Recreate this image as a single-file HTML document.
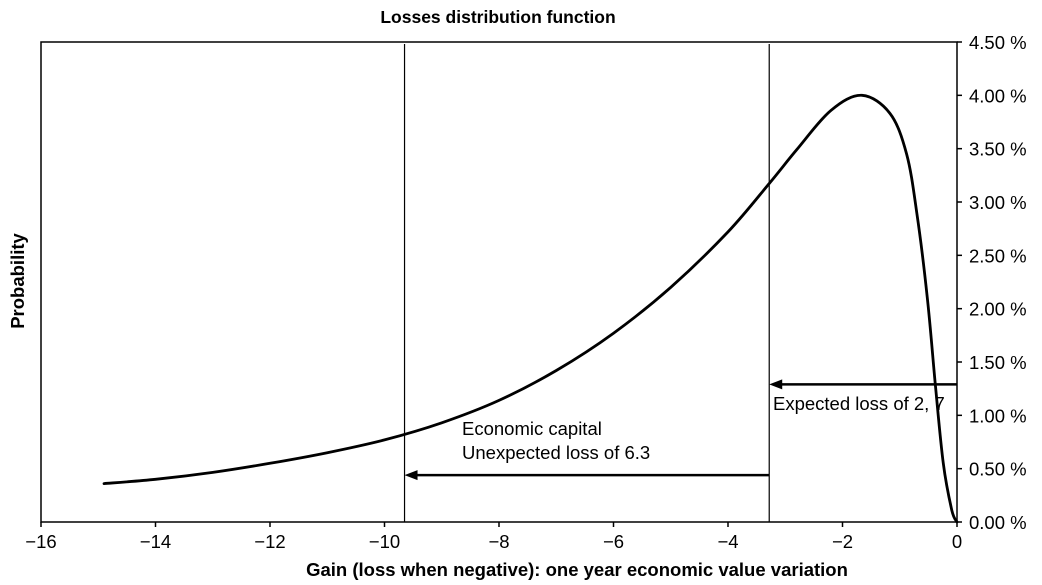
<!DOCTYPE html>
<html><head><meta charset="utf-8"><style>
body{margin:0;background:#fff;}
svg{display:block;font-family:"Liberation Sans",Arial,sans-serif;}
</style></head><body>
<svg id="chart" width="1042" height="585" viewBox="0 0 1042 585">
<text x="498" y="23" text-anchor="middle" font-size="17.5" font-weight="bold">Losses distribution function</text>
<text x="0" y="0" transform="translate(24,281) rotate(-90)" text-anchor="middle" font-size="18.5" font-weight="bold">Probability</text>
<text x="577" y="576" text-anchor="middle" font-size="18.5" font-weight="bold">Gain (loss when negative): one year economic value variation</text>
<g id="axes"></g>
<g id="marks"></g>
</svg>
<script>
const xTicks=[-16,-14,-12,-10,-8,-6,-4,-2,0];
const yTicks=[0,0.5,1,1.5,2,2.5,3,3.5,4,4.5];
const yTickLabels=["0.00 %","0.50 %","1.00 %","1.50 %","2.00 %","2.50 %","3.00 %","3.50 %","4.00 %","4.50 %"];
const curveX=[-14.9,-14,-13,-12,-11,-10,-9,-8,-7,-6,-5,-4,-3.27,-2.8,-2.2,-1.66,-1.17,-0.88,-0.7,-0.52,-0.38,-0.24,-0.09,0];
const curveY=[0.36,0.40,0.465,0.55,0.65,0.77,0.93,1.14,1.42,1.77,2.20,2.72,3.18,3.49,3.86,4.0,3.83,3.45,2.89,2.11,1.30,0.55,0.11,0];
const capitalLines=[-9.65,-3.28];
const expectedArrowLevel=1.29;
const unexpectedArrowLevel=0.44;
const X0=41,X1=957,Y0=522,Y1=42;
function sx(v){return X0+(v+16)/16*(X1-X0);}
function sy(v){return Y0-v/4.5*(Y0-Y1);}
const NS="http://www.w3.org/2000/svg";
function mk(tag,attrs,parent){const e=document.createElementNS(NS,tag);for(const k in attrs)e.setAttribute(k,attrs[k]);parent.appendChild(e);return e;}
const axes=document.getElementById('axes'),marks=document.getElementById('marks');
let f=mk('rect',{x:X0,y:Y1,width:X1-X0,height:Y0-Y1,fill:'none',stroke:'#000','stroke-width':1.5},axes);


xTicks.forEach(t=>{
  const l=mk('line',{x1:sx(t),x2:sx(t),y1:Y0,y2:Y0+5,stroke:'#000','stroke-width':1.5},axes);
  
  
  const tx=mk('text',{x:sx(t),y:Y0+26,'text-anchor':'middle','font-size':18.5},axes);
  tx.textContent=(t<0?'\u2212'+(-t):String(t));
  
  
});
yTicks.forEach((t,i)=>{
  const l=mk('line',{x1:X1,x2:X1+5,y1:sy(t),y2:sy(t),stroke:'#000','stroke-width':1.5},axes);
  
  
  const tx=mk('text',{x:969,y:sy(t)+7,'font-size':18.5},axes);
  tx.textContent=yTickLabels[i];
  
  
});
capitalLines.forEach(v=>{
  const l=mk('line',{x1:sx(v),x2:sx(v),y1:Y1+2,y2:Y0,stroke:'#000','stroke-width':1.2},marks);
  
  
});
const pts=curveX.map((x,i)=>[sx(x),sy(curveY[i])]);
let d='M'+pts[0][0].toFixed(1)+','+pts[0][1].toFixed(1);
for(let i=0;i<pts.length-1;i++){
  const p0=pts[Math.max(0,i-1)],p1=pts[i],p2=pts[i+1],p3=pts[Math.min(pts.length-1,i+2)];
  const c1=[p1[0]+(p2[0]-p0[0])/6,p1[1]+(p2[1]-p0[1])/6];
  const c2=[p2[0]-(p3[0]-p1[0])/6,p2[1]-(p3[1]-p1[1])/6];
  d+=` C${c1[0].toFixed(1)},${c1[1].toFixed(1)} ${c2[0].toFixed(1)},${c2[1].toFixed(1)} ${p2[0].toFixed(1)},${p2[1].toFixed(1)}`;
}
const p=mk('path',{d:d,fill:'none',stroke:'#000','stroke-width':2.8,'stroke-linejoin':'round','stroke-linecap':'round'},marks);


function arrow(xFrom,xTo,level,name){
  const y=sy(level);
  const l=mk('line',{x1:sx(xFrom),x2:sx(xTo)+10,y1:y,y2:y,stroke:'#000','stroke-width':2.5},marks);
  
  
  const h=mk('polygon',{points:`${sx(xTo)},${y} ${sx(xTo)+13},${y-5} ${sx(xTo)+13},${y+5}`,fill:'#000'},marks);
  
  
}
arrow(0,capitalLines[1],expectedArrowLevel,'expected-loss-arrow');
arrow(capitalLines[1],capitalLines[0],unexpectedArrowLevel,'unexpected-loss-arrow');
function label(x,y,s,name){const t=mk('text',{x:x,y:y,'font-size':18.5},marks);t.textContent=s;}
label(773,410,'Expected loss of 2, 7','expected-loss-label');
label(462,435,'Economic capital','economic-capital-label');
label(462,459,'Unexpected loss of 6.3','unexpected-loss-label');
</script>
</body></html>
